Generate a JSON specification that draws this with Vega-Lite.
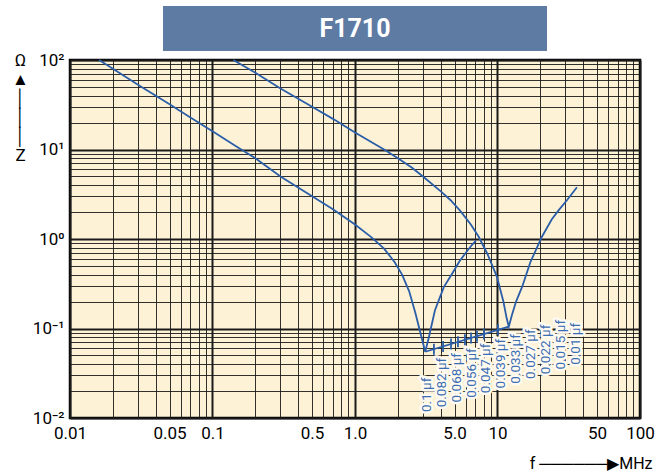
{
  "$schema": "https://vega.github.io/schema/vega-lite/v6.json",
  "background": "white",
  "padding": {"left": 10, "top": 6, "right": 5, "bottom": 5},
  "bounds": "flush",
  "center": true,
  "spacing": 9,
  "config": {"view": {"stroke": null}, "font": "Liberation Sans Narrow, Roboto, sans-serif"},
  "datasets": {
    "curves": [
      {"c": "0.1", "f": 0.016, "z": 100}, {"c": "0.1", "f": 0.02, "z": 80}, {"c": "0.1", "f": 0.03, "z": 53},
      {"c": "0.1", "f": 0.05, "z": 32}, {"c": "0.1", "f": 0.07, "z": 22.8}, {"c": "0.1", "f": 0.1, "z": 16},
      {"c": "0.1", "f": 0.15, "z": 10.6}, {"c": "0.1", "f": 0.2, "z": 8.0}, {"c": "0.1", "f": 0.3, "z": 5.0},
      {"c": "0.1", "f": 0.5, "z": 3.0}, {"c": "0.1", "f": 0.7, "z": 2.15}, {"c": "0.1", "f": 1.0, "z": 1.45},
      {"c": "0.1", "f": 1.3, "z": 1.05}, {"c": "0.1", "f": 1.6, "z": 0.78}, {"c": "0.1", "f": 1.9, "z": 0.55},
      {"c": "0.1", "f": 2.14, "z": 0.40}, {"c": "0.1", "f": 2.4, "z": 0.26}, {"c": "0.1", "f": 2.65, "z": 0.15},
      {"c": "0.1", "f": 2.85, "z": 0.095}, {"c": "0.1", "f": 3.11, "z": 0.055}, {"c": "0.1", "f": 3.3, "z": 0.08},
      {"c": "0.1", "f": 3.64, "z": 0.16}, {"c": "0.1", "f": 4.2, "z": 0.29}, {"c": "0.1", "f": 4.8, "z": 0.41},
      {"c": "0.1", "f": 5.4, "z": 0.56}, {"c": "0.1", "f": 5.94, "z": 0.69}, {"c": "0.1", "f": 6.5, "z": 0.83},
      {"c": "0.1", "f": 7.06, "z": 0.96},
      {"c": "0.01", "f": 0.14, "z": 100}, {"c": "0.01", "f": 0.2, "z": 72}, {"c": "0.01", "f": 0.3, "z": 48},
      {"c": "0.01", "f": 0.5, "z": 30}, {"c": "0.01", "f": 0.7, "z": 22}, {"c": "0.01", "f": 1.0, "z": 15.5},
      {"c": "0.01", "f": 1.6, "z": 10}, {"c": "0.01", "f": 2.0, "z": 8.0}, {"c": "0.01", "f": 2.5, "z": 6.3},
      {"c": "0.01", "f": 3.0, "z": 5.0}, {"c": "0.01", "f": 4.0, "z": 3.4}, {"c": "0.01", "f": 4.67, "z": 2.73},
      {"c": "0.01", "f": 5.5, "z": 2.05}, {"c": "0.01", "f": 6.5, "z": 1.45}, {"c": "0.01", "f": 7.38, "z": 1.06},
      {"c": "0.01", "f": 8.5, "z": 0.68}, {"c": "0.01", "f": 9.9, "z": 0.38}, {"c": "0.01", "f": 11.0, "z": 0.2},
      {"c": "0.01", "f": 11.6, "z": 0.13}, {"c": "0.01", "f": 12.0, "z": 0.105}, {"c": "0.01", "f": 12.6, "z": 0.14},
      {"c": "0.01", "f": 13.5, "z": 0.2}, {"c": "0.01", "f": 14.9, "z": 0.293}, {"c": "0.01", "f": 17, "z": 0.55},
      {"c": "0.01", "f": 20.5, "z": 1.06}, {"c": "0.01", "f": 24, "z": 1.65}, {"c": "0.01", "f": 26.9, "z": 2.1},
      {"c": "0.01", "f": 30.8, "z": 2.73}, {"c": "0.01", "f": 36.1, "z": 3.79}
    ],
    "link": [{"f": 3.11, "z": 0.055}, {"f": 12.0, "z": 0.105}],
    "ticks": [
      {"f": 3.58, "z": 0.0588}, {"f": 4.15, "z": 0.063}, {"f": 4.72, "z": 0.0671},
      {"f": 5.28, "z": 0.0709}, {"f": 5.91, "z": 0.0747}, {"f": 6.52, "z": 0.0783},
      {"f": 7.18, "z": 0.082}, {"f": 8.04, "z": 0.0866}, {"f": 10.08, "z": 0.0966}
    ],
    "labels": [
      {"label": "0.1 µf", "f": 3.2, "z": 0.01167},
      {"label": "0.082 µf", "f": 4.07, "z": 0.01317},
      {"label": "0.068 µf", "f": 5.17, "z": 0.01487},
      {"label": "0.056 µf", "f": 6.58, "z": 0.01679},
      {"label": "0.047 µf", "f": 8.36, "z": 0.01895},
      {"label": "0.039 µf", "f": 10.63, "z": 0.0214},
      {"label": "0.033 µf", "f": 13.5, "z": 0.0242},
      {"label": "0.027 µf", "f": 17.2, "z": 0.0273},
      {"label": "0.022 µf", "f": 21.8, "z": 0.0308},
      {"label": "0.015 µf", "f": 27.8, "z": 0.0348},
      {"label": "0.01 µf", "f": 35.3, "z": 0.0393}
    ],
    "title": [{"t": "F1710"}]
  },
  "vconcat": [
    {
      "width": 384,
      "height": 45,
      "data": {"name": "title"},
      "layer": [
        {"mark": {"type": "rect", "color": "#5d7ba3"}, "encoding": {}},
        {"mark": {"type": "text", "color": "white", "font": "Roboto", "fontWeight": "bold", "fontSize": 25}, "encoding": {"text": {"field": "t"}}}
      ]
    },
    {
      "width": 570,
      "height": 358,
      "view": {"fill": "#fdf2d6", "stroke": "black", "strokeWidth": 2.5},
      "layer": [
        {
          "data": {"name": "curves"},
          "mark": {"type": "line", "color": "#2b5ea8", "strokeWidth": 1.8},
          "encoding": {
            "x": {
              "field": "f", "type": "quantitative",
              "scale": {"type": "log", "domain": [0.01, 100], "nice": false},
              "axis": {
                "title": "f ──────▶MHz",
                "values": [0.01,0.02,0.03,0.04,0.05,0.06,0.07,0.08,0.09,0.1,0.2,0.3,0.4,0.5,0.6,0.7,0.8,0.9,1,2,3,4,5,6,7,8,9,10,20,30,40,50,60,70,80,90,100],
                "labelExpr": "indexof(['0.01','0.05','0.1','0.5','1','5','10','50','100'], format(datum.value, '~g')) < 0 ? '' : (datum.value == 1 ? '1.0' : datum.value == 5 ? '5.0' : format(datum.value, '~g'))",
                "labelFontSize": 17, "labelColor": "black", "labelPadding": 7,
                "labelOverlap": false, "labelFlush": false,
                "ticks": false, "domain": false,
                "grid": true, "gridColor": "#1a1a1a", "gridOpacity": 1,
                "gridWidth": {"condition": {"test": "abs(log(datum.value)/LN10 - round(log(datum.value)/LN10)) < 0.01", "value": 2}, "value": 0.9},
                "titleAnchor": "end", "titleAlign": "right", "titleX": 582, "titleY": 50,
                "titleBaseline": "alphabetic", "titleFontSize": 16, "titleFontWeight": "normal", "titleColor": "black"
              }
            },
            "y": {
              "field": "z", "type": "quantitative",
              "scale": {"type": "log", "domain": [0.01, 100], "nice": false},
              "axis": {
                "title": ["Ω", "▲", "│", "│", "│", "Z"],
                "values": [0.01,0.02,0.03,0.04,0.05,0.06,0.07,0.08,0.09,0.1,0.2,0.3,0.4,0.5,0.6,0.7,0.8,0.9,1,2,3,4,5,6,7,8,9,10,20,30,40,50,60,70,80,90,100],
                "labelExpr": "datum.value == 100 ? '10²' : datum.value == 10 ? '10¹' : datum.value == 1 ? '10⁰' : datum.value == 0.1 ? '10⁻¹' : datum.value == 0.01 ? '10⁻²' : ''",
                "labelFontSize": 17, "labelColor": "black", "labelPadding": 6,
                "labelOverlap": false, "labelFlush": false,
                "ticks": false, "domain": false,
                "grid": true, "gridColor": "#1a1a1a", "gridOpacity": 1,
                "gridWidth": {"condition": {"test": "abs(log(datum.value)/LN10 - round(log(datum.value)/LN10)) < 0.01", "value": 2}, "value": 0.9},
                "titleAngle": 0, "titleX": -50, "titleY": -8, "titleAlign": "center", "titleBaseline": "top",
                "titleFontSize": 17, "titleLineHeight": 19, "titleFontWeight": "normal", "titleColor": "black"
              }
            },
            "detail": {"field": "c"}
          }
        },
        {
          "data": {"name": "link"},
          "mark": {"type": "line", "color": "#2b5ea8", "strokeWidth": 1.8},
          "encoding": {"x": {"field": "f", "type": "quantitative"}, "y": {"field": "z", "type": "quantitative"}}
        },
        {
          "data": {"name": "ticks"},
          "mark": {"type": "tick", "orient": "vertical", "color": "#2b5ea8", "size": 11, "thickness": 1.8, "opacity": 1},
          "encoding": {"x": {"field": "f", "type": "quantitative"}, "y": {"field": "z", "type": "quantitative"}}
        },
        {
          "data": {"name": "labels"},
          "mark": {"type": "text", "angle": 270, "align": "left", "baseline": "middle", "fontSize": 13.5, "fill": "#fffaf0", "stroke": "#fffaf0", "strokeWidth": 5, "strokeJoin": "round"},
          "encoding": {"x": {"field": "f", "type": "quantitative"}, "y": {"field": "z", "type": "quantitative"}, "text": {"field": "label"}}
        },
        {
          "data": {"name": "labels"},
          "mark": {"type": "text", "angle": 270, "align": "left", "baseline": "middle", "fontSize": 13.5, "color": "#3b6db3"},
          "encoding": {"x": {"field": "f", "type": "quantitative"}, "y": {"field": "z", "type": "quantitative"}, "text": {"field": "label"}}
        }
      ]
    }
  ]
}
